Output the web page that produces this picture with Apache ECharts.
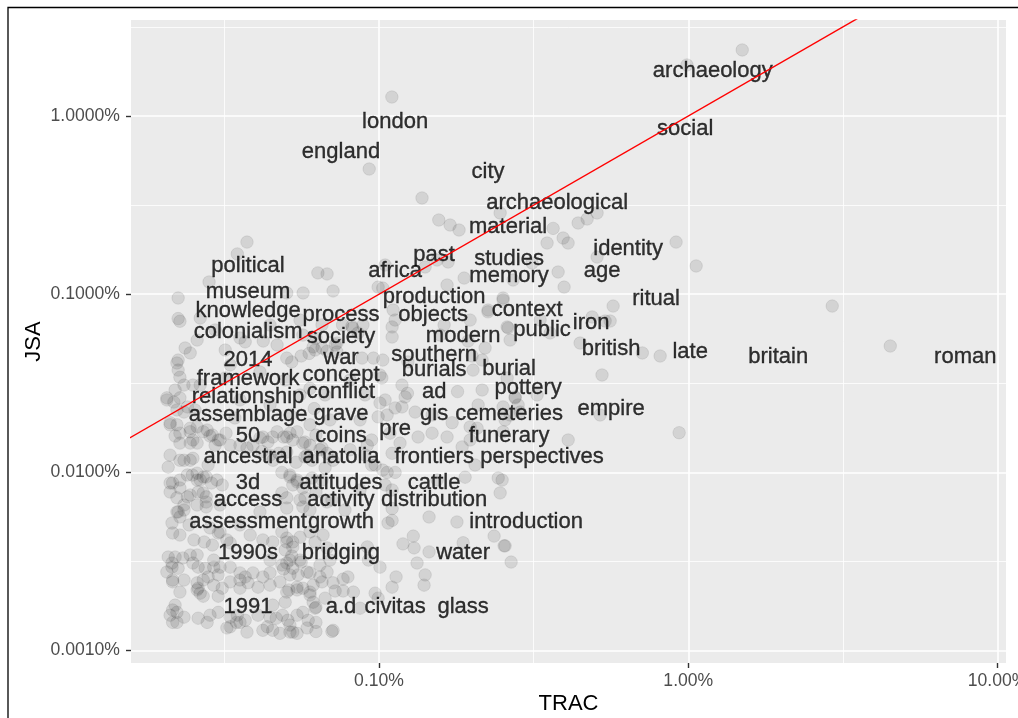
<!DOCTYPE html>
<html><head><meta charset="utf-8">
<script src="https://cdn.jsdelivr.net/npm/echarts@6/dist/echarts.min.js"></script>
<style>html,body{margin:0;padding:0;background:#fff;}#c{width:1018px;height:718px;}</style>
</head><body><div id="c"></div>
<script>
// Word labels (text positions, in percent of words)
const words = ['archaeology','london','social','england','city','archaeological','material','identity','past','studies',
 'political','africa','age','memory','museum','production','ritual','knowledge','process','objects',
 'context','colonialism','society','modern','public','iron','2014','war','southern','british',
 'late','britain','roman','framework','concept','burials','burial','relationship','conflict','ad',
 'pottery','assemblage','grave','gis','cemeteries','empire','50','coins','pre','funerary',
 'ancestral','anatolia','frontiers','perspectives','3d','attitudes','cattle','access','activity','distribution',
 'assessment','growth','introduction','1990s','bridging','water','1991','a.d','civitas','glass'];
const wordTRAC = [1.20,0.1127,0.977,0.0753,0.2252,0.3765,0.2614,0.6388,0.1507,0.2633,
 0.0377,0.1127,0.5264,0.2633,0.0377,0.1507,0.787,0.0377,0.0753,0.1496,
 0.3011,0.0377,0.0753,0.1870,0.3367,0.4850,0.0377,0.0753,0.1507,0.5629,
 1.014,1.953,7.864,0.0377,0.0753,0.1507,0.2633,0.0377,0.0753,0.1507,
 0.3033,0.0377,0.0753,0.1507,0.2633,0.5629,0.0377,0.0753,0.1127,0.2633,
 0.0377,0.0753,0.1507,0.3367,0.0377,0.0753,0.1507,0.0377,0.0753,0.1507,
 0.0377,0.0753,0.2989,0.0377,0.0753,0.1870,0.0377,0.0753,0.1127,0.1870];
const wordJSA = [1.789,0.9254,0.8451,0.6281,0.4852,0.3249,0.2382,0.1793,0.1660,0.1575,
 0.1439,0.1349,0.1349,0.1265,0.1029,0.0965,0.0940,0.0805,0.0764,0.0764,
 0.0815,0.0614,0.0575,0.0583,0.0630,0.0689,0.0427,0.0438,0.0456,0.0492,
 0.0474,0.0445,0.0445,0.0334,0.0352,0.0375,0.0380,0.0265,0.0283,0.0283,
 0.0298,0.0210,0.0213,0.0213,0.0213,0.0227,0.0160,0.0160,0.0175,0.0160,
 0.0122,0.0122,0.0122,0.0122,0.00872,0.00872,0.00872,0.00700,0.00700,0.00700,
 0.00527,0.00527,0.00527,0.00353,0.00353,0.00353,0.00175,0.00175,0.00175,0.00175];

// Jittered word points: [TRAC %, JSA %]
const jitteredPoints = [
[1.494,2.347],[0.990,1.933],[0.110,1.278],[0.0929,0.504],[0.1377,0.3467],[0.156,0.2608],[0.1697,0.2445],[0.1814,0.2292],[0.507,0.2856],[0.4708,0.2642],
[0.4403,0.2509],[0.3655,0.2340],[0.3937,0.2067],[0.4086,0.1937],[0.3494,0.1937],[0.507,0.1616],[0.913,0.1961],[1.060,0.1440],[0.3793,0.1332],[0.3966,0.1096],
[0.3125,0.1496],[0.2713,0.1201],[0.2518,0.0952],[0.154,0.1555],[0.1672,0.1516],[0.1884,0.1232],[0.1659,0.1126],[0.1409,0.1421],[0.1046,0.1458],[0.0993,0.1096],
[0.1028,0.1082],[0.0374,0.1961],[0.0348,0.1682],[0.0282,0.1171],[0.0224,0.0952],[0.0634,0.1317],[0.0679,0.1299],[0.0568,0.1016],[0.0710,0.1043],[0.0503,0.1016],
[0.2463,0.2856],
[0.0224,0.0730],[0.0227,0.0705],[0.0258,0.0553],[0.0236,0.0499],[0.0245,0.0468],[0.0224,0.0427],[0.0222,0.0411],[0.0355,0.0568],[0.0369,0.0540],[0.0422,0.0546],
[0.0468,0.0519],[0.0503,0.0438],[0.0522,0.0417],[0.0560,0.0450],[0.0625,0.0568],[0.0654,0.0499],[0.0621,0.0486],[0.0594,0.0465],[0.0679,0.0479],[0.0654,0.0672],
[0.0762,0.0672],[0.0821,0.0646],[0.0887,0.0672],[0.0721,0.0519],[0.0731,0.0474],[0.0881,0.0438],[0.0959,0.0438],[0.1028,0.0427],[0.1110,0.0815],[0.1127,0.0716],
[0.1102,0.0655],[0.1102,0.0575],[0.1240,0.0417],
[0.2250,0.0796],[0.197,0.0716],[0.1623,0.0672],[0.1575,0.0590],[0.2518,0.0928],[0.2252,0.0815],[0.2595,0.0655],[0.2653,0.0553],[0.1940,0.0546],[0.2202,0.0499],
[0.1999,0.0450],[0.2154,0.0427],
[0.5713,0.0858],[0.4887,0.0745],[0.5383,0.0707],[0.5587,0.0707],[0.3317,0.0716],[0.3574,0.0606],[0.2614,0.0647],[0.4468,0.0532],[2.92,0.0858],[4.498,0.0512],
[0.8108,0.0450],[0.710,0.0468],[0.526,0.0352],[0.3244,0.0272],[0.2754,0.0262],[0.2816,0.0239],[0.2518,0.0233],[0.5186,0.0210],[0.934,0.0167],[0.4088,0.0152],
[0.2518,0.0169],[0.2500,0.00906],[0.2463,0.00767],[0.2556,0.00387],[0.2673,0.00314],
[0.1794,0.0284],[0.2013,0.0375],[0.2595,0.0339],[0.2754,0.0265],[0.1214,0.0265],[0.1235,0.0278],[0.1046,0.0255],[0.1127,0.0230],[0.1186,0.0233],[0.1308,0.0218],
[0.0993,0.0205],[0.1723,0.0190],[0.1484,0.0210],[0.197,0.0180],[0.2075,0.0177],[0.2556,0.0197],[0.2653,0.0210],[0.1337,0.0158],[0.1484,0.0166],[0.1659,0.0158],
[0.1085,0.0166],[0.1169,0.0146],[0.1102,0.0128],[0.2044,0.0110],[0.2428,0.0093],[0.1898,0.0094],[0.1541,0.00906],[0.1127,0.0100],[0.1062,0.0100],[0.0971,0.0110],
[0.1046,0.0085],[0.1102,0.00797],[0.0901,0.0125],[0.0946,0.0152],[0.1021,0.0339],[0.1186,0.0309],[0.2154,0.0290],[0.2091,0.0239],[0.2858,0.0218],[0.0806,0.0330],
[0.1007,0.0352],[0.0901,0.0272],[0.0868,0.0197],
[0.1007,0.0245],[0.1062,0.0210],[0.0916,0.0142],[0.1028,0.0103],[0.0946,0.0110],[0.1102,0.00627],[0.1069,0.00520],
[0.1102,0.00538],[0.1451,0.00562],[0.1786,0.00527],[0.2355,0.00439],[0.2537,0.00387],[0.1195,0.00397],[0.1290,0.00439],[0.1298,0.00377],[0.1451,0.00358],[0.1870,0.00403],
[0.1327,0.00310],[0.1409,0.00266],[0.1398,0.00233],[0.1135,0.00259],[0.1102,0.00227],[0.1007,0.00294],[0.0971,0.00210],[0.0993,0.00197],[0.0868,0.00173],[0.0765,0.00252],
[0.0765,0.00216],[0.0721,0.00216],[0.0704,0.00128],[0.0916,0.00382],[0.0924,0.00322],
[0.0224,0.0375],[0.0227,0.0342],[0.0206,0.0262],[0.0217,0.0248],[0.0234,0.0218],[0.0211,0.0185],[0.0222,0.0185],[0.0219,0.0160],[0.0227,0.0166],[0.0245,0.0169],
[0.0258,0.0180],[0.0278,0.0173],[0.0289,0.0162],[0.0306,0.0152],[0.0295,0.0142],[0.0320,0.0166],[0.0245,0.0146],[0.0258,0.0146],[0.0227,0.0146],[0.0330,0.0142],
[0.0421,0.0158],[0.0437,0.0148],[0.0468,0.0169],[0.0491,0.0158],[0.0515,0.0166],[0.0543,0.0169],[0.0576,0.0148],[0.0625,0.0162],[0.0211,0.0125],[0.0227,0.0117],
[0.0250,0.0120],[0.0280,0.0110],[0.0539,0.0114],[0.0607,0.0117],[0.0211,0.00872],[0.0227,0.00906],[0.0240,0.00967],[0.0249,0.00967],[0.0258,0.00990],[0.0264,0.00906],
[0.0276,0.00943],[0.0287,0.00872],[0.0299,0.00906],[0.0311,0.00850],[0.0485,0.0100],[0.0515,0.00967],[0.0543,0.00906],[0.0607,0.00930],[0.0654,0.00906],[0.0485,0.00767],
[0.0503,0.00720],[0.0245,0.00747],[0.0260,0.00776],[0.0276,0.00729],[0.0234,0.00656],[0.0258,0.00656],
[0.0617,0.0228],[0.0598,0.0185],[0.0503,0.0130],[0.0576,0.0122],[0.0679,0.0128],[0.0454,0.0117],[0.0625,0.00776],[0.0679,0.00682],[0.0576,0.00720],[0.0208,0.0107],
[0.0224,0.00600],[0.0234,0.00615],[0.0215,0.00457],[0.0227,0.00445],[0.0252,0.00418],[0.0272,0.00407],[0.0289,0.00391],[0.0306,0.00463],[0.0322,0.00418],[0.0330,0.00402],
[0.0421,0.00418],[0.0453,0.00407],[0.0503,0.00428],[0.0526,0.00407],[0.0485,0.00463],[0.0555,0.00433],[0.0598,0.00463],[0.0659,0.00445],[0.0208,0.00335],[0.0219,0.00335],
[0.0232,0.00331],[0.0245,0.00344],[0.0258,0.00344],[0.0214,0.00294],[0.0224,0.00290],[0.0260,0.00294],[0.0274,0.00290],[0.0292,0.00294],[0.0306,0.00294],[0.0215,0.00243],
[0.0234,0.00249],[0.0258,0.00240],[0.0260,0.00224],[0.0280,0.00259],[0.0302,0.00266],[0.0330,0.00243],[0.0355,0.00273],[0.0369,0.00259],[0.0377,0.00240],[0.0406,0.00227],
[0.0421,0.00259],[0.0444,0.00273],[0.0485,0.00302],[0.0503,0.00310],[0.0526,0.00290],[0.0515,0.00266],[0.0547,0.00266],[0.0543,0.00227],[0.0567,0.00224],[0.0612,0.00233],
[0.0654,0.00243],[0.0264,0.00210],[0.0270,0.00202],[0.0302,0.00202],[0.0219,0.00180],[0.0222,0.00164],[0.0215,0.00169],[0.0234,0.00154],[0.0222,0.00144],[0.0260,0.00152],
[0.0278,0.00144],[0.0284,0.00158],[0.0322,0.00134],[0.0346,0.00144],[0.0348,0.00158],[0.0369,0.00148],[0.0435,0.00136],[0.0453,0.00130],[0.0465,0.00152],[0.0487,0.00158],
[0.0507,0.00148],[0.0543,0.00158],[0.0567,0.00164],[0.0526,0.00127],[0.0543,0.00125],[0.0515,0.00127],[0.0590,0.00148],[0.0625,0.00144],[0.0625,0.00128],[0.0612,0.00187],
[0.0621,0.00173],[0.0497,0.00187],[0.0710,0.00130],[0.0215,0.00144],[0.0330,0.00136],[0.0355,0.00144],[0.0478,0.00125],
[0.0497,0.00367],[0.0522,0.00340],[0.0555,0.00322],[0.0511,0.00219],[0.0598,0.00205],[0.0669,0.00197],[0.0644,0.00302],[0.0694,0.00322],[0.0412,0.00600],[0.0598,0.00615],
[0.0567,0.0590],[0.0330,0.0401],[0.0817,0.0662],[0.0855,0.0606],[0.0612,0.0506],[0.0731,0.0532],[0.0219,0.0290],[0.0234,0.0309],[0.0444,0.0239],[0.0555,0.0272],
[0.0355,0.0255],[0.0806,0.0134],[0.0868,0.00797],[0.0776,0.00615],[0.1856,0.0139],[0.197,0.0152],
[0.0355,0.0142],[0.0374,0.0137],[0.0391,0.0142],[0.0418,0.0131],[0.0444,0.0125],[0.0474,0.0128],[0.0598,0.0142],[0.0654,0.0137],[0.0669,0.0106],[0.0526,0.00850],
[0.0567,0.00818],[0.0211,0.00776],[0.0222,0.00720],[0.0276,0.00682],[0.0306,0.00656],[0.0503,0.00631],[0.0567,0.00640],[0.0222,0.00600],[0.0243,0.00507],[0.0284,0.00488],
[0.0355,0.00507],[0.0383,0.00445],[0.0621,0.00407],[0.0679,0.00377],[0.0206,0.00276],[0.0227,0.00213],[0.0292,0.00233],[0.0311,0.00224],[0.0355,0.00224],[0.0444,0.00233],
[0.0478,0.00243],[0.0585,0.00276],[0.0679,0.00276],[0.0211,0.00158],[0.0302,0.00164],[0.0330,0.00154],[0.0406,0.00158],[0.0444,0.00154],[0.0515,0.00139],[0.0585,0.00134],
[0.0421,0.00130],[0.0374,0.00127],
[0.0264,0.0309],[0.0318,0.0339],[0.0412,0.0366],[0.0497,0.0330],[0.0598,0.0296],[0.0669,0.0272],[0.0254,0.0224],[0.0342,0.0202],[0.0515,0.0210],[0.0694,0.0197],
[0.0264,0.0735],[0.0295,0.0630],[0.0444,0.0672],[0.0318,0.0486],[0.0555,0.0716],
[0.0250,0.0309],[0.0206,0.0255],[0.0227,0.0262],[0.0222,0.0224],[0.0240,0.0233],[0.0211,0.0190],[0.0245,0.0177],[0.0270,0.0169],[0.0284,0.0160],[0.0302,0.0152],
[0.0250,0.0152],[0.0234,0.0117],[0.0245,0.0117],[0.0412,0.0156],[0.0453,0.0158],[0.0503,0.0158],[0.0526,0.0152],[0.0567,0.0146],[0.0585,0.0125],[0.0644,0.0134],
[0.0710,0.0117],[0.0258,0.00906],[0.0270,0.00943],[0.0215,0.00872],[0.0227,0.00818],[0.0240,0.00729],[0.0270,0.00767],[0.0515,0.00943],[0.0543,0.00884],[0.0555,0.00700],
[0.0704,0.00700],
[0.0214,0.00520],[0.0227,0.00562],[0.0276,0.00640],[0.0302,0.00457],[0.0503,0.00407],[0.0526,0.00381],[0.0515,0.00322],[0.0560,0.00314],[0.0598,0.00273],[0.0644,0.00259],
[0.0491,0.00287],[0.0444,0.00322],[0.0391,0.00273],[0.0355,0.00249],[0.0270,0.00249],[0.0258,0.00219],[0.0215,0.00249],[0.0214,0.00310],[0.0250,0.00310],[0.0292,0.00322],
[0.0330,0.00294],[0.0710,0.00240],[0.0793,0.00259],[0.0826,0.00213],[0.0503,0.00213],[0.0543,0.00219],[0.0598,0.00213],[0.0625,0.00175],[0.0453,0.00180]
];

// Reference line y = x (endpoints)
const identityLine = [0.01, 10];
// Axis ranges and ticks (percent)
const xRange = [0.01577, 10.65];
const yRange = [0.000852, 3.457];
const xMajorTicks = [0.1, 1, 10];
const xMinorTicks = [0.031623, 0.31623, 3.1623];
const yMajorTicks = [0.001, 0.01, 0.1, 1];
const yMinorTicks = [0.0031623, 0.031623, 0.31623, 3.1623];

const FONT = '"Liberation Sans", Arial, sans-serif';
const chart = echarts.init(document.getElementById('c'), null, {renderer: 'canvas'});

function majorAxis(range, ticks, fmt, extra) {
  return Object.assign({
    type: 'log', logBase: 10, min: range[0], max: range[1],
    axisLine: {show: false},
    axisTick: {show: true, customValues: ticks, length: 5, lineStyle: {color: '#333333', width: 1.4}},
    axisLabel: {customValues: ticks, formatter: fmt, color: '#4d4d4d', fontSize: 17.6, fontFamily: FONT},
    splitLine: {show: true, lineStyle: {color: '#ffffff', width: 1.6}},
    minorTick: {show: false}, minorSplitLine: {show: false}
  }, extra);
}
function minorAxis(range, ticks, extra) {
  return Object.assign({
    type: 'log', logBase: 10, min: range[0], max: range[1],
    axisLine: {show: false},
    axisTick: {show: false, customValues: ticks},
    axisLabel: {show: false, customValues: ticks},
    splitLine: {show: true, lineStyle: {color: '#ffffff', width: 0.8}}
  }, extra);
}

chart.setOption({
  animation: false,
  backgroundColor: '#ffffff',
  grid: {left: 131, top: 20, right: 12, bottom: 55, show: true, backgroundColor: '#EBEBEB', borderWidth: 0,
         containLabel: false, outerBoundsMode: 'none'},
  xAxis: [
    majorAxis(xRange, xMajorTicks, v => Number(v).toFixed(2) + '%', {
      position: 'bottom', name: 'TRAC', nameLocation: 'middle', nameGap: 30, nameMoveOverlap: false,
      nameTextStyle: {color: '#000', fontSize: 22, fontFamily: FONT, verticalAlign: 'top'},
      axisLabel: {customValues: xMajorTicks, formatter: v => Number(v).toFixed(2) + '%', color: '#4d4d4d', fontSize: 17.6, fontFamily: FONT, margin: 9}
    }),
    minorAxis(xRange, xMinorTicks, {position: 'top'})
  ],
  yAxis: [
    majorAxis(yRange, yMajorTicks, v => Number(v).toFixed(4) + '%', {
      position: 'left', name: 'JSA', nameLocation: 'middle', nameGap: 86, nameRotate: 90, nameMoveOverlap: false,
      nameTextStyle: {color: '#000', fontSize: 22, fontFamily: FONT},
      axisLabel: {customValues: yMajorTicks, formatter: v => Number(v).toFixed(4) + '%', color: '#4d4d4d', fontSize: 17.6, fontFamily: FONT, margin: 11}
    }),
    minorAxis(yRange, yMinorTicks, {position: 'right'})
  ],
  series: [
    {
      type: 'scatter', xAxisIndex: 0, yAxisIndex: 0, z: 2,
      data: jitteredPoints,
      symbol: 'circle', symbolSize: 12.5,
      itemStyle: {color: 'rgba(0,0,0,0.10)', borderColor: 'rgba(0,0,0,0.08)', borderWidth: 1, opacity: 1},
      emphasis: {disabled: true}, silent: true, large: false, progressive: 0
    },
    {
      type: 'scatter', xAxisIndex: 0, yAxisIndex: 0, z: 3,
      data: words.map((w, i) => ({name: w, value: [wordTRAC[i], wordJSA[i]]})),
      symbol: 'circle', symbolSize: 1,
      itemStyle: {color: 'rgba(0,0,0,0)'},
      label: {show: true, position: 'inside', offset: [0, 1], formatter: '{b}', color: '#000', fontSize: 22, fontFamily: FONT,
              textBorderColor: '#000', textBorderWidth: 0.35},
      labelLayout: {hideOverlap: false},
      emphasis: {disabled: true}, silent: true
    },
    {
      type: 'line', xAxisIndex: 0, yAxisIndex: 0, z: 4,
      data: identityLine.map(v => [v, v]),
      symbol: 'none', clip: true,
      lineStyle: {color: '#FF0000', width: 1.4},
      emphasis: {disabled: true}, silent: true
    }
  ],
  graphic: [{
    type: 'rect', z: 100, silent: true,
    shape: {x: 8, y: 7.5, width: 1200, height: 900},
    style: {fill: 'none', stroke: '#000', lineWidth: 1.3}
  }]
});
</script></body></html>
